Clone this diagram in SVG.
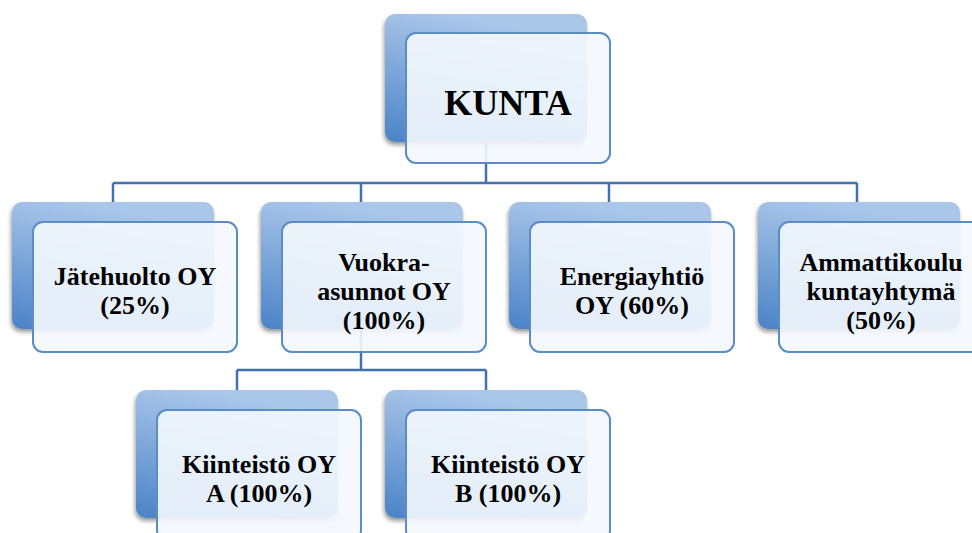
<svg xmlns="http://www.w3.org/2000/svg" width="972" height="533" viewBox="0 0 972 533">
  <style>
    .back { fill: url(#bg); filter: url(#sh); }
    .front { fill: #f4f8fd; fill-opacity: 0.9; stroke: #5a8cc6; stroke-width: 2; }
    .lbl { font-family: 'Liberation Serif', 'DejaVu Serif', serif; font-weight: bold; font-size: 26px; fill: #000; text-anchor: middle; }
    .big { font-size: 36px; }
    .conn { fill: none; stroke: #4272ad; stroke-width: 2.5; }
  </style>
  <defs>
    <linearGradient id="bg" x1="0.3" y1="0" x2="0" y2="1">
      <stop offset="0" stop-color="#aac6e9"/>
      <stop offset="1" stop-color="#4a83c7"/>
    </linearGradient>
    <filter id="sh" x="-10%" y="-10%" width="120%" height="125%">
      <feDropShadow dx="-1" dy="3" stdDeviation="2" flood-color="#000" flood-opacity="0.4"/>
    </filter>
  </defs>
  <rect width="972" height="533" fill="#fff"/>
  <g id="connectors">
    <path class="conn" d="M486 142 V183 M113 183 H857 M113 183 V202 M361 183 V202 M609 183 V202 M857 183 V202"/>
    <path class="conn" d="M361 329 V370 M237 370 H486 M237 370 V390 M486 370 V390"/>
  </g>
  <g id="kunta">
    <rect class="back" x="385" y="14" width="202" height="128" rx="10"/>
    <rect class="front" x="406" y="33" width="204" height="130" rx="10"/>
    <text class="lbl big" x="508" y="115">KUNTA</text>
  </g>
  <g id="jatehuolto">
    <rect class="back" x="12" y="202" width="202" height="127" rx="10"/>
    <rect class="front" x="33" y="222" width="204" height="130" rx="10"/>
    <text class="lbl" x="135" y="285">Jätehuolto OY</text>
    <text class="lbl" x="135" y="314">(25%)</text>
  </g>
  <g id="vuokra">
    <rect class="back" x="261" y="202" width="202" height="127" rx="10"/>
    <rect class="front" x="282" y="222" width="204" height="130" rx="10"/>
    <text class="lbl" x="384" y="271">Vuokra-</text>
    <text class="lbl" x="384" y="300">asunnot OY</text>
    <text class="lbl" x="384" y="329">(100%)</text>
  </g>
  <g id="energia">
    <rect class="back" x="509" y="202" width="202" height="127" rx="10"/>
    <rect class="front" x="530" y="222" width="204" height="130" rx="10"/>
    <text class="lbl" x="632" y="285">Energiayhtiö</text>
    <text class="lbl" x="632" y="314">OY (60%)</text>
  </g>
  <g id="ammattikoulu">
    <rect class="back" x="758" y="202" width="202" height="127" rx="10"/>
    <rect class="front" x="779" y="222" width="204" height="130" rx="10"/>
    <text class="lbl" x="881" y="271">Ammattikoulu</text>
    <text class="lbl" x="881" y="300">kuntayhtymä</text>
    <text class="lbl" x="881" y="329">(50%)</text>
  </g>
  <g id="kiinteisto-a">
    <rect class="back" x="136" y="390" width="202" height="128" rx="10"/>
    <rect class="front" x="157" y="410" width="204" height="130" rx="10"/>
    <text class="lbl" x="259" y="473">Kiinteistö OY</text>
    <text class="lbl" x="259" y="502">A (100%)</text>
  </g>
  <g id="kiinteisto-b">
    <rect class="back" x="385" y="390" width="202" height="128" rx="10"/>
    <rect class="front" x="406" y="410" width="204" height="130" rx="10"/>
    <text class="lbl" x="508" y="473">Kiinteistö OY</text>
    <text class="lbl" x="508" y="502">B (100%)</text>
  </g>
</svg>
